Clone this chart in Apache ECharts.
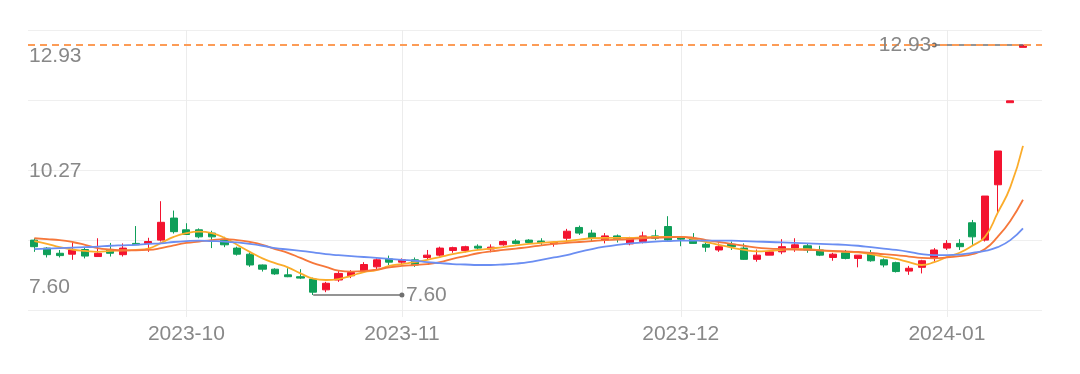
<!DOCTYPE html>
<html><head><meta charset="utf-8">
<script src="https://cdn.jsdelivr.net/npm/echarts@6/dist/echarts.min.js"></script>
<style>html,body{margin:0;padding:0;background:#fff}#c{width:1080px;height:374px}</style>
</head><body><div id="c"></div>
<script>
const dates = [
 '2023-09-13','2023-09-14','2023-09-15','2023-09-18','2023-09-19','2023-09-20','2023-09-21','2023-09-22','2023-09-25','2023-09-26','2023-09-27','2023-09-28',
 '2023-10-09','2023-10-10','2023-10-11','2023-10-12','2023-10-13','2023-10-16','2023-10-17','2023-10-18','2023-10-19','2023-10-20','2023-10-23','2023-10-24','2023-10-25','2023-10-26','2023-10-27','2023-10-30','2023-10-31',
 '2023-11-01','2023-11-02','2023-11-03','2023-11-06','2023-11-07','2023-11-08','2023-11-09','2023-11-10','2023-11-13','2023-11-14','2023-11-15','2023-11-16','2023-11-17','2023-11-20','2023-11-21','2023-11-22','2023-11-23','2023-11-24','2023-11-27','2023-11-28','2023-11-29','2023-11-30',
 '2023-12-01','2023-12-04','2023-12-05','2023-12-06','2023-12-07','2023-12-08','2023-12-11','2023-12-12','2023-12-13','2023-12-14','2023-12-15','2023-12-18','2023-12-19','2023-12-20','2023-12-21','2023-12-22','2023-12-25','2023-12-26','2023-12-27','2023-12-28','2023-12-29',
 '2024-01-02','2024-01-03','2024-01-04','2024-01-05','2024-01-08','2024-01-09','2024-01-10','2024-01-11'
];
const openP = [8.77,8.60,8.49,8.47,8.57,8.42,8.56,8.46,8.70,8.70, 8.77,9.24,8.99,8.99,8.92,8.79,8.60,8.47,8.24,8.15, 8.03,7.99,7.94,7.71,7.92,8.01,8.11,8.20,8.37,8.30, 8.35,8.40,8.45,8.55,8.55,8.64,8.58,8.67,8.75,8.77, 8.75,8.69,8.81,9.04,8.92,8.77,8.86,8.69,8.74,8.86, 9.06,8.82,8.81,8.68,8.56,8.68,8.60,8.36,8.45,8.52, 8.60,8.65,8.56,8.40,8.50,8.38,8.49,8.35,8.29,8.11, 8.19,8.38,8.60,8.70,9.14,8.77,9.95,11.70,12.88];
const closeP = [8.63,8.46,8.44,8.56,8.43,8.49,8.49,8.60,8.67,8.74, 9.15,8.95,8.89,8.84,8.84,8.67,8.47,8.24,8.15,8.05, 7.99,7.96,7.66,7.85,8.06,8.08,8.25,8.35,8.30,8.35, 8.24,8.45,8.60,8.61,8.63,8.60,8.62,8.74,8.70,8.72, 8.72,8.72,8.96,8.92,8.81,8.86,8.79,8.81,8.86,8.81, 8.77,8.79,8.70,8.62,8.63,8.63,8.36,8.45,8.52,8.63, 8.67,8.56,8.45,8.47,8.38,8.45,8.33,8.24,8.10,8.17, 8.33,8.56,8.70,8.63,8.84,9.71,10.67,11.74,12.93];
const lowP = [8.52,8.40,8.40,8.35,8.38,8.42,8.42,8.42,8.67,8.52, 8.74,8.91,8.88,8.81,8.60,8.62,8.44,8.20,8.10,8.03, 7.98,7.94,7.60,7.66,7.88,7.96,8.08,8.15,8.24,8.24, 8.20,8.35,8.42,8.50,8.51,8.56,8.51,8.65,8.68,8.70, 8.67,8.63,8.75,8.88,8.75,8.70,8.72,8.66,8.70,8.77, 8.74,8.64,8.69,8.52,8.52,8.56,8.35,8.31,8.45,8.47, 8.52,8.50,8.43,8.33,8.36,8.19,8.31,8.19,8.08,8.03, 8.06,8.31,8.56,8.56,8.67,8.74,9.34,11.70,12.88];
const highP = [8.81,8.62,8.56,8.74,8.62,8.81,8.71,8.70,9.07,8.82, 9.60,9.40,9.13,9.02,8.97,8.84,8.63,8.51,8.25,8.17, 8.17,8.15,7.97,7.88,8.11,8.13,8.30,8.38,8.44,8.38, 8.40,8.56,8.63,8.63,8.65,8.68,8.68,8.76,8.79,8.79, 8.81,8.74,9.01,9.08,8.99,8.92,8.89,8.84,8.95,8.99, 9.28,8.84,8.92,8.72,8.70,8.74,8.70,8.57,8.54,8.79, 8.81,8.69,8.65,8.50,8.56,8.45,8.56,8.38,8.31,8.22, 8.35,8.60,8.77,8.79,9.20,9.71,10.67,11.74,12.93];
const ma5 = [8.75,8.69,8.62,8.57,8.54,8.52,8.54,8.55,8.56,8.59, 8.71,8.84,8.92,8.95,8.92,8.82,8.67,8.52,8.38,8.28, 8.19,8.06,7.95,7.92,7.94,8.01,8.09,8.13,8.22,8.26, 8.30,8.35,8.41,8.47,8.52,8.56,8.59,8.62,8.66,8.69, 8.71,8.73,8.75,8.78,8.81,8.82,8.82,8.82,8.83,8.84, 8.84,8.84,8.79,8.73,8.67,8.61,8.56,8.53,8.54,8.56, 8.58,8.58,8.55,8.53,8.52,8.51,8.47,8.42,8.37,8.30, 8.24,8.30,8.41,8.50,8.65,8.84,9.35,9.90,10.78];
const ma10 = [8.81,8.79,8.77,8.73,8.67,8.60,8.57,8.55,8.55,8.56, 8.60,8.66,8.71,8.74,8.77,8.79,8.77,8.73,8.67,8.58, 8.50,8.39,8.28,8.20,8.12,8.10,8.11,8.14,8.19,8.22, 8.24,8.26,8.30,8.37,8.43,8.49,8.53,8.56,8.59,8.62, 8.66,8.69,8.71,8.73,8.75,8.77,8.78,8.79,8.81,8.82, 8.83,8.84,8.82,8.77,8.73,8.69,8.65,8.61,8.59,8.58, 8.57,8.56,8.55,8.54,8.53,8.52,8.50,8.47,8.45,8.42, 8.39,8.38,8.40,8.43,8.47,8.58,8.84,9.18,9.63];
const ma20 = [8.58,8.59,8.60,8.61,8.62,8.63,8.65,8.66,8.67,8.69, 8.70,8.73,8.75,8.76,8.75,8.74,8.72,8.69,8.65,8.60, 8.57,8.54,8.51,8.47,8.45,8.43,8.41,8.39,8.37,8.35, 8.33,8.30,8.28,8.26,8.25,8.24,8.24,8.25,8.27,8.30, 8.35,8.40,8.45,8.52,8.58,8.63,8.67,8.70,8.72,8.74, 8.75,8.76,8.76,8.76,8.76,8.76,8.75,8.74,8.73,8.72, 8.71,8.70,8.69,8.68,8.67,8.65,8.62,8.59,8.56,8.52, 8.47,8.45,8.45,8.46,8.50,8.54,8.62,8.77,9.02];
const yTickLabels = ['7.60', '10.27', '12.93'];

const candle = openP.map((o, i) => [o, closeP[i], lowP[i], highP[i]]);
let maxV = -Infinity, maxI = 0, minV = Infinity, minI = 0;
highP.forEach((v, i) => { if (v >= maxV) { maxV = v; maxI = i; } });
lowP.forEach((v, i) => { if (v < minV) { minV = v; minI = i; } });
const span = maxV - minV;
const pad = span * 0.06;
const annLen = 7;

const FONT = 'Liberation Sans, Arial, sans-serif';
const GREY = '#888888';
const UP = '#f3132f', DOWN = '#0f9f59';

const isMonthStart = (idx) => idx === 0 ? false : dates[idx].slice(0, 7) !== dates[idx - 1].slice(0, 7);

const chart = echarts.init(document.getElementById('c'), null, { renderer: 'canvas' });
chart.setOption({
  animation: false,
  backgroundColor: '#fff',
  grid: [
    { left: 28, right: 38, top: 30, bottom: 64 },
    { left: 28, right: 38, top: 56, bottom: 87 }
  ],
  xAxis: [
    {
      type: 'category', data: dates, gridIndex: 0, boundaryGap: true,
      axisLine: { show: false },
      axisTick: { show: true, alignWithLabel: true, interval: isMonthStart, length: 7, lineStyle: { color: '#ececec' } },
      splitLine: { show: true, alignWithLabel: true, interval: isMonthStart, lineStyle: { color: '#ececec', width: 1 } },
      axisLabel: { interval: isMonthStart, formatter: v => v.slice(0, 7), color: GREY, fontSize: 21, fontFamily: FONT, margin: 14 }
    },
    { type: 'value', gridIndex: 1, show: false, min: 0, max: 1 }
  ],
  yAxis: [
    {
      type: 'value', gridIndex: 0, scale: true,
      min: minV - pad, max: maxV + pad, interval: (span + 2 * pad) / 4,
      axisLine: { show: false }, axisTick: { show: false }, axisLabel: { show: false },
      splitLine: { show: true, lineStyle: { color: '#efefef', width: 1 } }
    },
    {
      type: 'value', gridIndex: 1, min: minV, max: maxV, interval: span / 2,
      axisLine: { show: false }, axisTick: { show: false }, splitLine: { show: false },
      axisLabel: {
        inside: true, margin: 1, color: GREY, fontSize: 21, fontFamily: FONT,
        formatter: (v) => {
          const k = Math.round((v - minV) / (span / 2));
          return yTickLabels[k] || '';
        }
      }
    }
  ],
  series: [
    {
      type: 'candlestick', xAxisIndex: 0, yAxisIndex: 0, data: candle, barWidth: '60%',
      itemStyle: { color: UP, color0: DOWN, borderColor: UP, borderColor0: DOWN, borderWidth: 1 },
      markLine: {
        silent: true, animation: false,
        symbol: ['none', 'none'],
        data: [
          [
            { coord: [dates[maxI], maxV], symbol: 'none' },
            { coord: [dates[maxI - annLen], maxV], symbol: 'circle', symbolSize: 5,
              label: { show: true, position: 'end', distance: 3, formatter: () => maxV.toFixed(2), color: GREY, fontSize: 21, fontFamily: FONT } }
          ],
          [
            { coord: [dates[minI], minV], symbol: 'none' },
            { coord: [dates[minI + annLen], minV], symbol: 'circle', symbolSize: 5,
              label: { show: true, position: 'end', distance: 4, formatter: () => minV.toFixed(2), color: GREY, fontSize: 21, fontFamily: FONT } }
          ],
          { yAxis: maxV, symbol: 'none', label: { show: false },
            lineStyle: { color: '#fc9c57', type: [7, 5], width: 2 } }
        ],
        lineStyle: { color: '#707070', type: 'solid', width: 1.5 }
      }
    },
    { name: 'MA5', type: 'line', data: ma5, smooth: true, showSymbol: false, lineStyle: { color: '#fbac2a', width: 1.8 }, z: 3 },
    { name: 'MA10', type: 'line', data: ma10, smooth: true, showSymbol: false, lineStyle: { color: '#f6773a', width: 1.8 }, z: 3 },
    { name: 'MA20', type: 'line', data: ma20, smooth: true, showSymbol: false, lineStyle: { color: '#6b8ef2', width: 1.8 }, z: 3 }
  ]
});
</script>
</body></html>
